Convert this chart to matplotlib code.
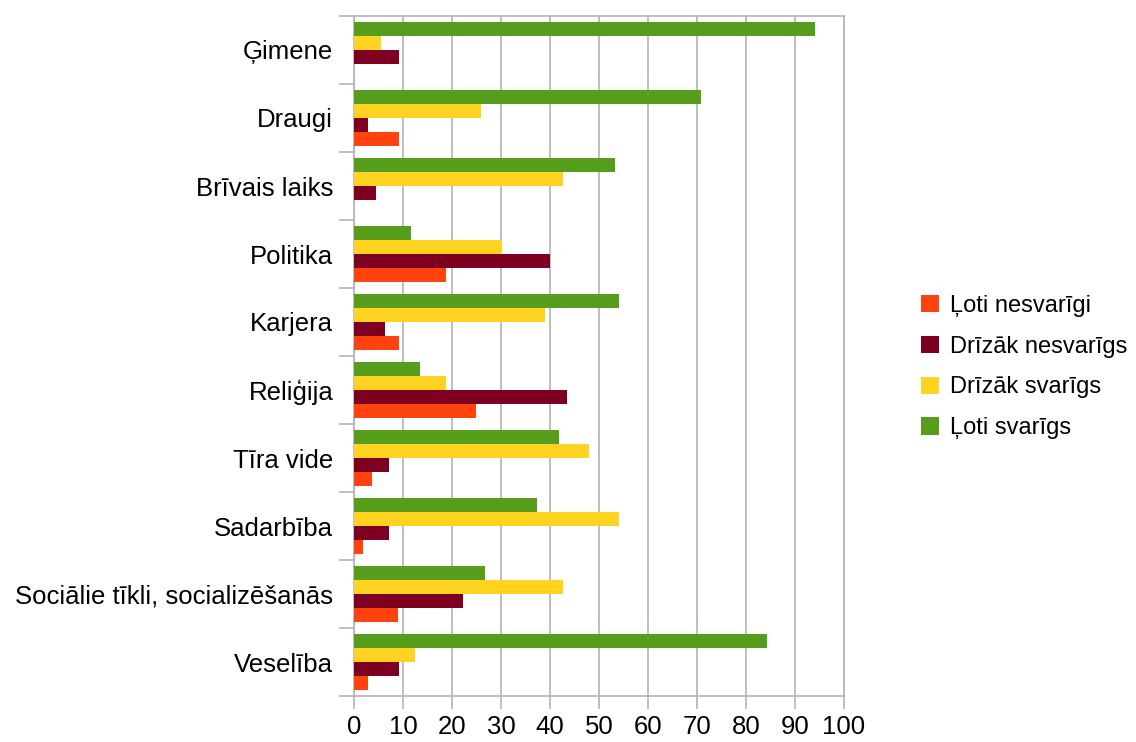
import numpy as np
import matplotlib.pyplot as plt
from matplotlib.ticker import FixedLocator

plt.rcParams['font.family'] = ['Liberation Sans', 'DejaVu Sans']

# kategorijas no augšas uz leju
kategorijas = ['Ģimene', 'Draugi', 'Brīvais laiks', 'Politika', 'Karjera',
               'Reliģija', 'Tīra vide', 'Sadarbība',
               'Sociālie tīkli, socializēšanās', 'Veselība']

loti_nesvarigi = [0, 9.2, 0, 18.8, 9.2, 24.9, 3.7, 1.8, 9.0, 2.9]
drizak_nesvarigs = [9.2, 2.9, 4.5, 40.0, 6.3, 43.4, 7.1, 7.1, 22.2, 9.2]
drizak_svarigs = [5.5, 25.9, 42.6, 30.2, 38.9, 18.8, 47.9, 54.0, 42.6, 12.4]
loti_svarigs = [94.0, 70.9, 53.2, 11.6, 54.0, 13.5, 41.8, 37.3, 26.7, 84.2]

serijas = ['Ļoti nesvarīgi', 'Drīzāk nesvarīgs', 'Drīzāk svarīgs', 'Ļoti svarīgs']
krasas = ['#ff420e', '#7e0021', '#ffd320', '#579d1c']
vertibas = [loti_nesvarigi, drizak_nesvarigs, drizak_svarigs, loti_svarigs]

fig = plt.figure(figsize=(11.36, 7.42), dpi=100)
ax = fig.add_axes([354/1136, 1 - 696/742, (844-354)/1136, (696-16)/742])

n = len(kategorijas)
y = np.arange(n)[::-1]  # Ģimene augšā
h = 0.206
for i, (vals, c, lab) in enumerate(zip(vertibas, krasas, serijas)):
    ax.barh(y + (i - 1.5) * h, vals, height=h, color=c, label=lab, zorder=3)

ax.set_xlim(0, 100)
ax.set_ylim(-0.5, n - 0.5)
ax.set_xticks(np.arange(0, 101, 10))
ax.set_yticks(y)
ax.set_yticklabels(kategorijas)
ax.yaxis.set_minor_locator(FixedLocator(np.arange(-0.5, n, 1)))
ax.tick_params(axis='y', which='major', length=0, pad=15, labelsize=18.5)
ax.tick_params(axis='y', which='minor', length=11, color='#b3b3b3', width=1.2)
ax.tick_params(axis='x', which='major', length=9, color='#b3b3b3', width=1.2,
               labelsize=18.5, pad=5)
ax.grid(axis='x', color='#b3b3b3', linewidth=1.2, zorder=0)
for s in ax.spines.values():
    s.set_color('#b3b3b3')
    s.set_linewidth(1.2)

handles, labels = ax.get_legend_handles_labels()
fig.legend(handles, labels, loc='center left', bbox_to_anchor=(900/1136, 1 - 367/742),
           frameon=False, fontsize=17, handlelength=0.75, handleheight=0.75,
           handletextpad=0.45, labelspacing=0.8)

plt.savefig('out.png', dpi=100)
